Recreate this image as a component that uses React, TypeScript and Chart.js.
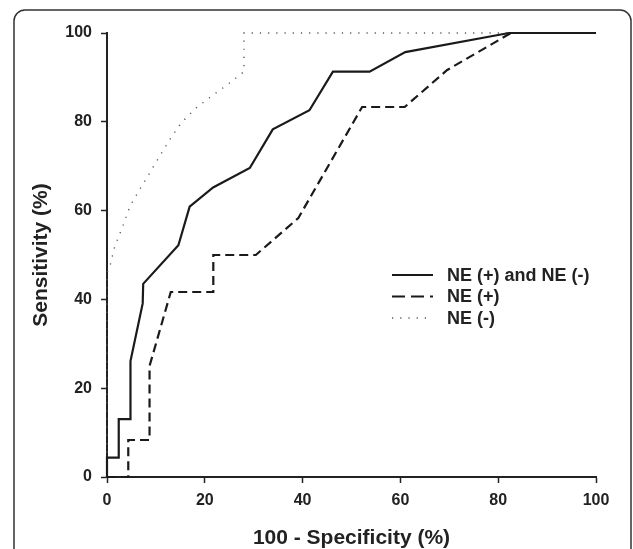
import React, { useEffect, useRef } from "react";
import { Chart, registerables } from "chart.js";

Chart.register(...registerables);

// ROC data: x = 100 - Specificity (%), y = Sensitivity (%)
const bothX = [0, 0, 2.4, 2.4, 4.8, 4.8, 7.3, 7.4, 14.6, 16.9, 21.7, 29.2, 33.9, 41.4, 46.2, 53.7, 61.0, 82.2, 100];
const bothY = [0, 4.35, 4.35, 13.04, 13.04, 26.1, 39.1, 43.5, 52.2, 60.9, 65.2, 69.6, 78.3, 82.6, 91.3, 91.3, 95.7, 100, 100];

const posX = [0, 4.35, 4.35, 8.7, 8.7, 13.04, 21.74, 21.74, 30.43, 39.13, 52.17, 60.87, 69.57, 82.61, 100];
const posY = [0, 0, 8.33, 8.33, 25, 41.67, 41.67, 50, 50, 58.33, 83.33, 83.33, 91.67, 100, 100];

const negX = [0, 0, 0.6, 1.6, 3.0, 4.7, 6.7, 8.8, 10.8, 12.9, 15.2, 18.3, 21.4, 24.8, 26.5, 28, 28, 100];
const negY = [0, 46, 47.5, 52, 55.8, 61, 64.8, 68.6, 72.3, 76.1, 79.8, 83.2, 85.8, 88.5, 90, 91.3, 100, 100];

const seriesLabels = ["NE (+) and NE (-)", "NE (+)", "NE (-)"];
const xTicks = [0, 20, 40, 60, 80, 100];
const yTicks = [0, 20, 40, 60, 80, 100];

const FONT = '"Liberation Sans", Arial, sans-serif';
const INK = "#222";

const zip = (xs: number[], ys: number[]) => xs.map((x, i) => ({ x, y: ys[i] }));

const framePlugin = {
  id: "frame",
  beforeDraw(chart: any) {
    const ctx = chart.ctx;
    ctx.save();
    ctx.fillStyle = "#fff";
    ctx.fillRect(0, 0, chart.width, chart.height);
    ctx.beginPath();
    ctx.lineWidth = 1.5;
    ctx.strokeStyle = "#333";
    ctx.roundRect(14, 10, 617, 570, 11);
    ctx.stroke();
    ctx.restore();
  },
};

const legendPlugin = {
  id: "customLegend",
  afterDraw(chart: any) {
    const ctx = chart.ctx;
    ctx.save();
    chart.data.datasets.forEach((ds: any, i: number) => {
      const y = 275 + i * 21.5;
      ctx.beginPath();
      ctx.setLineDash(i === 1 ? [13, 6] : ds.borderDash || []);
      ctx.lineWidth = ds.borderWidth;
      ctx.strokeStyle = ds.borderColor;
      ctx.moveTo(392, y);
      ctx.lineTo(433, y);
      ctx.stroke();
      ctx.setLineDash([]);
      ctx.fillStyle = INK;
      ctx.font = `bold 18px ${FONT}`;
      ctx.textBaseline = "middle";
      ctx.textAlign = "left";
      ctx.fillText(ds.label, 447, y + 1);
    });
    ctx.restore();
  },
};

export default function App() {
  const ref = useRef<HTMLCanvasElement>(null);

  useEffect(() => {
    if (!ref.current) return;
    const chart = new Chart(ref.current, {
      type: "line",
      data: {
        datasets: [
          {
            label: seriesLabels[0],
            data: zip(bothX, bothY),
            borderColor: "#1a1a1a",
            borderWidth: 2.2,
            pointRadius: 0,
            tension: 0,
            clip: false as any,
          },
          {
            label: seriesLabels[1],
            data: zip(posX, posY),
            borderColor: "#1a1a1a",
            borderWidth: 2.2,
            borderDash: [9, 5],
            pointRadius: 0,
            tension: 0,
            clip: false as any,
          },
          {
            label: seriesLabels[2],
            data: zip(negX, negY),
            borderColor: "#555",
            borderWidth: 1.4,
            borderDash: [1.2, 7],
            pointRadius: 0,
            tension: 0,
            clip: false as any,
          },
        ],
      },
      options: {
        responsive: false,
        animation: false,
        devicePixelRatio: 1,
        layout: { padding: { left: 0, top: 33, right: 37, bottom: 0 } },
        plugins: {
          legend: { display: false },
          tooltip: { enabled: false },
        },
        scales: {
          x: {
            type: "linear",
            min: 0,
            max: 100,
            afterFit: (s: any) => {
              s.height = 72;
            },
            afterBuildTicks: (s: any) => {
              s.ticks = xTicks.map((v) => ({ value: v }));
            },
            border: { display: true, color: INK, width: 2 },
            grid: { drawOnChartArea: false, drawTicks: true, tickLength: 6, tickColor: INK, tickWidth: 1.5 },
            ticks: {
              color: INK,
              font: { family: FONT, size: 16, weight: "bold" },
              padding: 8,
              maxRotation: 0,
            },
            title: {
              display: true,
              text: "100 - Specificity (%)",
              color: INK,
              font: { family: FONT, size: 21, weight: "bold" },
              padding: { top: 0, bottom: -2 },
            },
          },
          y: {
            type: "linear",
            min: 0,
            max: 100,
            afterFit: (s: any) => {
              s.width = 107;
            },
            afterBuildTicks: (s: any) => {
              s.ticks = yTicks.map((v) => ({ value: v }));
            },
            border: { display: true, color: INK, width: 2 },
            grid: { drawOnChartArea: false, drawTicks: true, tickLength: 6, tickColor: INK, tickWidth: 1.5 },
            ticks: {
              color: INK,
              font: { family: FONT, size: 16, weight: "bold" },
              padding: 9,
            },
            title: {
              display: true,
              text: "Sensitivity (%)",
              color: INK,
              font: { family: FONT, size: 21, weight: "bold" },
              padding: { top: 29, bottom: 0 },
            },
          },
        },
      },
      plugins: [framePlugin, legendPlugin],
    });
    return () => chart.destroy();
  }, []);

  return (
    <div style={{ position: "fixed", left: 0, top: 0, width: 633, height: 549, overflow: "hidden", background: "#fff" }}>
      <canvas ref={ref} width={633} height={549} style={{ display: "block" }} />
    </div>
  );
}
